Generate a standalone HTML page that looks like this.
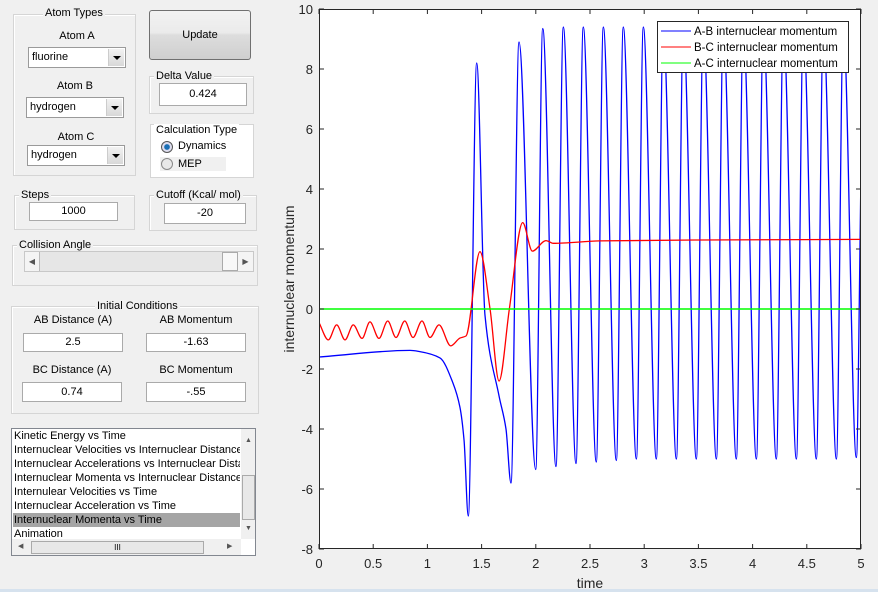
<!DOCTYPE html>
<html><head><meta charset="utf-8">
<style>
*{box-sizing:border-box}
body{margin:0;width:878px;height:592px;background:#f0f0f0;font-family:"Liberation Sans",Arial,sans-serif;font-size:11px;color:#000;position:relative;overflow:hidden}
.a{position:absolute}
.grp{position:absolute;border:1px solid #d5d5d5;box-shadow:inset 1px 1px 0 #fff}
.gt{position:absolute;background:#f0f0f0;padding:0 2px;font-size:11px;line-height:12px;white-space:nowrap}
.lbl{position:absolute;font-size:11px;text-align:center;white-space:nowrap}
.inp{position:absolute;background:#fff;border:1px solid #aaa;text-align:center;font-size:11px}
.dd{position:absolute;background:#fff;border:1px solid #9a9a9a;font-size:11px;padding-left:3px}
.dd .arr{position:absolute;right:1px;top:1px;bottom:1px;width:16px;background:linear-gradient(#f2f2f2,#d8d8d8);border-left:1px solid #ccc}
.dd .arr:after{content:"";position:absolute;left:4px;top:7px;border-left:4px solid transparent;border-right:4px solid transparent;border-top:4px solid #000}
.li{position:absolute;left:1px;height:14px;line-height:14px;font-size:11px;white-space:nowrap;overflow:hidden;width:227px;padding-left:1px}
</style></head><body>

<div class="grp" style="left:13px;top:14px;width:123px;height:162px"></div>
<div class="gt" style="left:43px;top:7px">Atom Types</div>
<div class="lbl" style="left:28px;top:30px;width:98px">Atom A</div>
<div class="dd" style="left:28px;top:47px;width:98px;height:21px;line-height:19px">fluorine<span class="arr"></span></div>
<div class="lbl" style="left:26px;top:80px;width:98px">Atom B</div>
<div class="dd" style="left:26px;top:97px;width:98px;height:21px;line-height:19px">hydrogen<span class="arr"></span></div>
<div class="lbl" style="left:27px;top:131px;width:98px">Atom C</div>
<div class="dd" style="left:27px;top:145px;width:98px;height:21px;line-height:19px">hydrogen<span class="arr"></span></div>

<div class="a" style="left:149px;top:10px;width:102px;height:50px;border:1px solid #707070;border-radius:3px;background:linear-gradient(#f2f2f2 0,#ebebeb 45%,#dddddd 50%,#cfcfcf 100%);text-align:center;line-height:48px;font-size:11px">Update</div>

<div class="grp" style="left:149px;top:76px;width:105px;height:38px"></div>
<div class="gt" style="left:154px;top:70px">Delta Value</div>
<div class="inp" style="left:159px;top:83px;width:88px;height:23px;line-height:21px">0.424</div>

<div class="grp" style="left:150px;top:124px;width:104px;height:54px;background:#fff"></div>
<div class="gt" style="left:154px;top:124px;background:#fff">Calculation Type</div>
<div class="a" style="left:161px;top:141px;width:12px;height:12px;border-radius:50%;border:1px solid #555;background:radial-gradient(circle,#1a6fb5 0,#1a6fb5 35%,#dde 45%)"></div>
<div class="lbl" style="left:178px;top:140px">Dynamics</div>
<div class="a" style="left:160px;top:157px;width:66px;height:14px;background:#f0f0f0"></div>
<div class="a" style="left:161px;top:158px;width:12px;height:12px;border-radius:50%;border:1px solid #888;background:#e8e8e8"></div>
<div class="lbl" style="left:178px;top:158px">MEP</div>

<div class="grp" style="left:14px;top:195px;width:121px;height:35px"></div>
<div class="gt" style="left:19px;top:189px">Steps</div>
<div class="inp" style="left:29px;top:202px;width:89px;height:19px;line-height:17px">1000</div>

<div class="grp" style="left:149px;top:195px;width:108px;height:36px"></div>
<div class="gt" style="left:154px;top:189px">Cutoff (Kcal/ mol)</div>
<div class="inp" style="left:164px;top:203px;width:82px;height:21px;line-height:19px">-20</div>

<div class="grp" style="left:12px;top:245px;width:246px;height:41px"></div>
<div class="gt" style="left:17px;top:239px">Collision Angle</div>
<div class="a" style="left:24px;top:251px;width:230px;height:21px;background:#e6e6e6;border:1px solid #c8c8c8">
 <div class="a" style="left:0;top:0;width:15px;height:19px;background:#f4f4f4;border-right:1px solid #bbb;text-align:center;font-size:8px;line-height:19px;color:#555">&#9664;</div>
 <div class="a" style="left:197px;top:0;width:16px;height:19px;background:#f8f8f8;border:1px solid #aaa"></div>
 <div class="a" style="left:213px;top:0;width:15px;height:19px;background:#f4f4f4;text-align:center;font-size:8px;line-height:19px;color:#555">&#9654;</div>
</div>

<div class="grp" style="left:11px;top:306px;width:248px;height:108px"></div>
<div class="gt" style="left:95px;top:300px">Initial Conditions</div>
<div class="lbl" style="left:23px;top:314px;width:100px">AB Distance (A)</div>
<div class="lbl" style="left:146px;top:314px;width:100px">AB Momentum</div>
<div class="inp" style="left:23px;top:333px;width:100px;height:19px;line-height:17px">2.5</div>
<div class="inp" style="left:146px;top:333px;width:100px;height:19px;line-height:17px">-1.63</div>
<div class="lbl" style="left:22px;top:364px;width:100px">BC Distance (A)</div>
<div class="lbl" style="left:146px;top:364px;width:100px">BC Momentum</div>
<div class="inp" style="left:22px;top:382px;width:100px;height:20px;line-height:18px">0.74</div>
<div class="inp" style="left:146px;top:382px;width:100px;height:20px;line-height:18px">-.55</div>

<div class="a" style="left:11px;top:428px;width:245px;height:128px;background:#fff;border:1px solid #828790;overflow:hidden">
 <div class="li" style="top:0">Kinetic Energy vs Time</div>
 <div class="li" style="top:14px">Internuclear Velocities vs Internuclear Distance</div>
 <div class="li" style="top:28px">Internuclear Accelerations vs Internuclear Distance</div>
 <div class="li" style="top:42px">Internuclear Momenta vs Internuclear Distance</div>
 <div class="li" style="top:56px">Internulear Velocities vs Time</div>
 <div class="li" style="top:70px">Internuclear Acceleration vs Time</div>
 <div class="li" style="top:84px;background:#a5a5a5">Internuclear Momenta vs Time</div>
 <div class="li" style="top:98px">Animation</div>
 <div class="a" style="left:229px;top:0;width:15px;height:110px;background:#f0f0f0">
  <div class="a" style="left:4px;top:8px;font-size:7px;color:#555">&#9650;</div>
  <div class="a" style="left:1px;top:46px;width:13px;height:45px;background:#e8e8e8;border:1px solid #aaa"></div>
  <div class="a" style="left:4px;top:96px;font-size:7px;color:#555">&#9660;</div>
 </div>
 <div class="a" style="left:0;top:110px;width:229px;height:16px;background:#f0f0f0">
  <div class="a" style="left:6px;top:3px;font-size:7px;color:#555">&#9664;</div>
  <div class="a" style="left:19px;top:2px;width:173px;height:13px;background:#e8e8e8;border:1px solid #aaa;text-align:center;font-size:8px;line-height:11px">III</div>
  <div class="a" style="left:215px;top:3px;font-size:7px;color:#555">&#9654;</div>
 </div>
</div>

<svg id="chart" class="a" style="left:0;top:0" width="878" height="592" xmlns="http://www.w3.org/2000/svg"></svg>
<div class="a" style="left:0;top:589px;width:878px;height:3px;background:#d6e2ee"></div>

<script>
const xTicks=[0,0.5,1,1.5,2,2.5,3,3.5,4,4.5,5];
const yTicks=[-8,-6,-4,-2,0,2,4,6,8,10];
const abT=[0,0.84,0.93,1.116,1.236,1.30,1.338,1.377,1.455,1.531,1.661,1.725,1.771,1.845,1.999,2.064,2.186,2.254,2.371,2.438,2.558,2.623,2.743,2.807,2.928,2.992,3.112,3.176,3.297,3.361,3.481,3.545,3.666,3.730,3.850,3.914,4.035,4.099,4.219,4.284,4.404,4.468,4.588,4.653,4.773,4.837,4.957,5];
const abV=[-1.6,-1.38,-1.42,-1.63,-2.47,-3.27,-4.37,-6.9,8.2,-0.2,-2.9,-4.0,-5.8,8.9,-5.35,9.35,-5.25,9.4,-5.15,9.4,-5.1,9.4,-5.05,9.4,-5.0,9.4,-5.0,9.4,-5.0,9.4,-5.0,9.4,-5.0,9.4,-5.0,9.4,-5.0,9.4,-5.0,9.4,-5.0,9.4,-5.0,9.4,-5.0,9.4,-4.95,4.5];
const bcT=[0,0.086,0.163,0.240,0.316,0.397,0.470,0.553,0.634,0.710,0.791,0.867,0.950,1.024,1.107,1.215,1.30,1.356,1.485,1.578,1.661,1.756,1.879,1.968,2.094,2.161,2.592,3.515,5];
const bcV=[-0.45,-1.03,-0.53,-1.03,-0.53,-0.98,-0.43,-0.98,-0.4,-0.95,-0.4,-0.95,-0.4,-0.95,-0.53,-1.23,-0.97,-0.9,1.91,0.0,-2.4,0.0,2.88,1.93,2.28,2.19,2.27,2.3,2.32];
const acT=[0,5];
const acV=[0,0];
const labels=["A-B internuclear momentum","B-C internuclear momentum","A-C internuclear momentum"];
const colors=["#0000ff","#ff0000","#00ff00"];

const X0=319,X1=861,Y0=549,Y1=9;
const sx=t=>X0+(t-0)/(5-0)*(X1-X0);
const sy=v=>Y0-(v-(-8))/(10-(-8))*(Y0-Y1);
const svg=document.getElementById('chart');
const NS="http://www.w3.org/2000/svg";
function mk(tag,attrs){const e=document.createElementNS(NS,tag);for(const k in attrs)e.setAttribute(k,attrs[k]);svg.appendChild(e);return e;}

const bg=mk('rect',{x:X0,y:Y1,width:X1-X0,height:Y0-Y1,fill:'#fff'});



// monotone cubic (Fritsch-Carlson) path
function path(ts,vs){
  const x=ts.map(sx),y=vs.map(sy),n=x.length;
  if(n<3)return 'M'+x.map((v,i)=>v+','+y[i]).join('L');
  const d=[],m=new Array(n);
  for(let i=0;i<n-1;i++)d.push((y[i+1]-y[i])/(x[i+1]-x[i]));
  m[0]=d[0];m[n-1]=d[n-2];
  for(let i=1;i<n-1;i++){
    if(d[i-1]*d[i]<=0)m[i]=0;
    else{const h0=x[i]-x[i-1],h1=x[i+1]-x[i];const w1=2*h1+h0,w2=h1+2*h0;m[i]=(w1+w2)/(w1/d[i-1]+w2/d[i]);}
  }
  let s='M'+x[0]+','+y[0];
  for(let i=0;i<n-1;i++){
    const h=(x[i+1]-x[i])/3;
    s+='C'+(x[i]+h)+','+(y[i]+m[i]*h)+' '+(x[i+1]-h)+','+(y[i+1]-m[i+1]*h)+' '+x[i+1]+','+y[i+1];
  }
  return s;
}
const defs=mk('defs',{});
const cp=document.createElementNS(NS,'clipPath');cp.setAttribute('id','clip');defs.appendChild(cp);
const cr=document.createElementNS(NS,'rect');cr.setAttribute('x',X0);cr.setAttribute('y',Y1);cr.setAttribute('width',X1-X0);cr.setAttribute('height',Y0-Y1);cp.appendChild(cr);

const l1=mk('path',{d:path(abT,abV),fill:'none',stroke:colors[0],'stroke-width':1.3,'clip-path':'url(#clip)'});


const l2=mk('path',{d:path(bcT,bcV),fill:'none',stroke:colors[1],'stroke-width':1.3,'clip-path':'url(#clip)'});


const l3=mk('path',{d:path(acT,acV),fill:'none',stroke:colors[2],'stroke-width':1.5});



const box=mk('rect',{x:X0+0.5,y:Y1+0.5,width:X1-X0-1,height:Y0-Y1-1,fill:'none',stroke:'#262626','stroke-width':1});



xTicks.forEach(t=>{
  const x=sx(t);
  mk('line',{x1:x,y1:Y0,x2:x,y2:Y0-5,stroke:'#262626'});
  mk('line',{x1:x,y1:Y1,x2:x,y2:Y1+5,stroke:'#262626'});
  const tx=mk('text',{x:x,y:Y0+19,'text-anchor':'middle','font-size':13,fill:'#262626','font-family':'Liberation Sans, sans-serif'});
  tx.textContent=String(t);
  
  
});
yTicks.forEach(v=>{
  const y=sy(v);
  mk('line',{x1:X0,y1:y,x2:X0+5,y2:y,stroke:'#262626'});
  mk('line',{x1:X1,y1:y,x2:X1-5,y2:y,stroke:'#262626'});
  const tx=mk('text',{x:X0-6,y:y+5,'text-anchor':'end','font-size':13,fill:'#262626','font-family':'Liberation Sans, sans-serif'});
  tx.textContent=String(v);
  
  
});
const xt=mk('text',{x:590,y:588,'text-anchor':'middle','font-size':14,fill:'#262626','font-family':'Liberation Sans, sans-serif'});
xt.textContent='time';


const yt=mk('text',{x:0,y:0,'text-anchor':'middle','font-size':14,fill:'#262626','font-family':'Liberation Sans, sans-serif',transform:'translate(294,279) rotate(-90)'});
yt.textContent='internuclear momentum';



const lg=mk('rect',{x:657.5,y:21.5,width:191,height:51,fill:'#fff',stroke:'#262626'});


labels.forEach((s,i)=>{
  const y=31+i*16;
  const ln=mk('line',{x1:661,y1:y,x2:691,y2:y,stroke:colors[i],'stroke-width':1});
  
  
  const tx=mk('text',{x:694,y:y+4,'font-size':11.5,fill:'#000','font-family':'Liberation Sans, sans-serif'});
  tx.textContent=s;
  
  
});
</script>
</body></html>
